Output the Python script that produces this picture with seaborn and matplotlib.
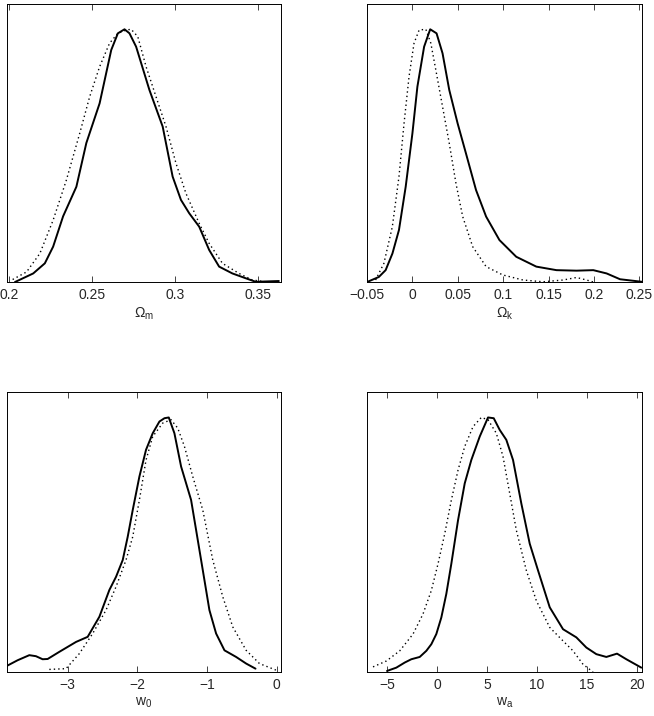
import numpy as np
import seaborn as sns
import matplotlib.pyplot as plt

# Omega_m panel
om_x_solid = [0.2036, 0.2146, 0.2216, 0.2266, 0.2326, 0.2406, 0.2466, 0.2546, 0.2616, 0.2656,
              0.2696, 0.2726, 0.2766, 0.2846, 0.2926, 0.2986, 0.3036, 0.3086, 0.3146, 0.3206,
              0.3266, 0.3346, 0.3426, 0.3486, 0.3626]
om_y_solid = [0.0, 0.034, 0.074, 0.14, 0.26, 0.377, 0.55, 0.707, 0.918, 0.984,
              1.0, 0.984, 0.931, 0.76, 0.615, 0.417, 0.325, 0.272, 0.219, 0.127,
              0.061, 0.034, 0.015, 0.001, 0.004]
om_x_dot = [0.2022, 0.2106, 0.2186, 0.2266, 0.2346, 0.2426, 0.2486, 0.2546, 0.2606, 0.2656,
            0.2706, 0.2736, 0.2776, 0.2826, 0.2886, 0.2946, 0.3006, 0.3066, 0.3146, 0.3206,
            0.3286, 0.3386, 0.3466, 0.3546]
om_y_dot = [0.01, 0.04, 0.113, 0.245, 0.404, 0.588, 0.733, 0.852, 0.945, 0.984,
            0.997, 1.0, 0.971, 0.852, 0.733, 0.615, 0.47, 0.351, 0.232, 0.153,
            0.074, 0.034, 0.008, 0.001]

# Omega_k panel
ok_x_solid = [-0.05, -0.037, -0.0295, -0.022, -0.0148, -0.0074, 0.0, 0.0055, 0.0129, 0.0196,
              0.0266, 0.0332, 0.0406, 0.0498, 0.059, 0.0701, 0.0812, 0.0959, 0.1144, 0.1365,
              0.1587, 0.1808, 0.1993, 0.214, 0.2288, 0.2528]
ok_y_solid = [0.0, 0.02, 0.047, 0.113, 0.206, 0.377, 0.588, 0.773, 0.931, 1.0,
              0.984, 0.905, 0.76, 0.628, 0.509, 0.364, 0.259, 0.166, 0.1, 0.061,
              0.047, 0.045, 0.047, 0.034, 0.011, 0.001]
ok_x_dot = [-0.0406, -0.0314, -0.0221, -0.0148, -0.0092, -0.0037, 0.0018, 0.0074, 0.0148, 0.0203,
            0.0258, 0.0332, 0.0406, 0.048, 0.0554, 0.0664, 0.0812, 0.0996, 0.1218, 0.1439,
            0.1661, 0.1808, 0.1919, 0.1993]
ok_y_dot = [0.008, 0.074, 0.219, 0.417, 0.628, 0.813, 0.945, 0.997, 1.0, 0.945,
            0.839, 0.694, 0.549, 0.39, 0.259, 0.14, 0.061, 0.028, 0.008, 0.001,
            0.008, 0.018, 0.008, 0.0]

# w0 panel
w0_x_solid = [-3.885, -3.718, -3.55, -3.455, -3.359, -3.287, -3.12, -2.88, -2.713, -2.545,
              -2.402, -2.306, -2.21, -2.139, -2.067, -1.971, -1.876, -1.78, -1.684, -1.612,
              -1.55, -1.469, -1.373, -1.23, -1.158, -1.062, -0.967, -0.871, -0.751, -0.584,
              -0.44, -0.306]
w0_y_solid = [0.022, 0.046, 0.066, 0.062, 0.05, 0.051, 0.079, 0.118, 0.138, 0.217,
              0.322, 0.374, 0.44, 0.531, 0.636, 0.768, 0.873, 0.938, 0.984, 0.997,
              1.0, 0.938, 0.807, 0.676, 0.558, 0.4, 0.243, 0.151, 0.085, 0.059,
              0.033, 0.013]
w0_x_dot = [-3.263, -3.024, -2.833, -2.641, -2.45, -2.306, -2.163, -2.067, -1.971, -1.876,
            -1.78, -1.636, -1.517, -1.421, -1.325, -1.206, -1.062, -0.919, -0.775, -0.632,
            -0.44, -0.249, -0.01]
w0_y_dot = [0.01, 0.013, 0.072, 0.151, 0.243, 0.335, 0.44, 0.531, 0.676, 0.833,
            0.925, 0.978, 0.991, 0.958, 0.886, 0.768, 0.636, 0.44, 0.295, 0.177,
            0.085, 0.033, 0.007]

# wa panel
wa_x_solid = [-5.0, -4.07, -3.23, -2.57, -1.73, -1.07, -0.57, -0.07, 0.43, 0.93,
              1.43, 2.1, 2.77, 3.43, 4.27, 5.1, 5.67, 6.27, 6.93, 7.6,
              8.43, 9.27, 10.1, 11.27, 12.6, 13.93, 14.93, 15.93, 16.93, 18.0,
              18.93, 20.43]
wa_y_solid = [0.004, 0.017, 0.037, 0.05, 0.059, 0.083, 0.109, 0.149, 0.214, 0.307,
              0.425, 0.596, 0.741, 0.833, 0.925, 1.0, 0.997, 0.951, 0.912, 0.833,
              0.662, 0.504, 0.399, 0.254, 0.168, 0.136, 0.096, 0.07, 0.059, 0.072,
              0.05, 0.017]
wa_x_dot = [-6.4, -5.07, -3.73, -2.4, -1.4, -0.57, 0.1, 0.77, 1.43, 2.1,
            2.77, 3.6, 4.43, 5.1, 5.93, 6.6, 7.27, 7.93, 8.93, 9.93,
            11.27, 12.6, 13.6, 14.6, 15.6]
wa_y_dot = [0.02, 0.043, 0.083, 0.149, 0.228, 0.32, 0.425, 0.543, 0.675, 0.793,
            0.886, 0.964, 1.0, 0.991, 0.938, 0.846, 0.701, 0.557, 0.399, 0.28,
            0.175, 0.122, 0.083, 0.03, 0.0]

sns.set_style("white")
plt.rcParams['font.family'] = ['Liberation Sans', 'DejaVu Sans']
plt.rcParams['mathtext.fontset'] = 'custom'
plt.rcParams['mathtext.rm'] = 'Liberation Sans'
plt.rcParams['mathtext.it'] = 'Liberation Sans:italic'

fig = plt.figure(figsize=(6.54, 7.16), dpi=100)

panels = [
    ([0.0107, 0.6061, 0.4190, 0.3883], om_x_solid, om_y_solid, om_x_dot, om_y_dot,
     (0.1988, 0.3639), [0.2, 0.25, 0.3, 0.35], ['0.2', '0.25', '0.3', '0.35'], r'$\Omega_{\mathrm{m}}$'),
    ([0.5612, 0.6061, 0.4205, 0.3883], ok_x_solid, ok_y_solid, ok_x_dot, ok_y_dot,
     (-0.05, 0.253), [-0.05, 0, 0.05, 0.1, 0.15, 0.2, 0.25],
     ['\u22120.05', '0', '0.05', '0.1', '0.15', '0.2', '0.25'], r'$\Omega_{\mathrm{k}}$'),
    ([0.0107, 0.0615, 0.4190, 0.3910], w0_x_solid, w0_y_solid, w0_x_dot, w0_y_dot,
     (-3.87, 0.06), [-3, -2, -1, 0], ['\u22123', '\u22122', '\u22121', '0'], r'$\mathrm{w}_{0}$'),
    ([0.5612, 0.0615, 0.4205, 0.3910], wa_x_solid, wa_y_solid, wa_x_dot, wa_y_dot,
     (-7.0, 20.5), [-5, 0, 5, 10, 15, 20], ['\u22125', '0', '5', '10', '15', '20'], r'$\mathrm{w}_{\mathrm{a}}$'),
]

for rect, xs, ys, xd, yd, xlim, ticks, ticklabels, label in panels:
    ax = fig.add_axes(rect)
    sns.lineplot(x=np.array(xd), y=np.array(yd), ax=ax, color='k', lw=1.0,
                 linestyle=(0, (1, 2.2)), sort=False)
    sns.lineplot(x=np.array(xs), y=np.array(ys), ax=ax, color='k', lw=1.4, sort=False)
    ax.set_xlim(*xlim)
    ax.set_ylim(0, 1.1)
    ax.set_yticks([])
    ax.set_xticks(ticks)
    ax.set_xticklabels(ticklabels, fontsize=10)
    ax.tick_params(axis='x', direction='in', top=True, bottom=True, length=4, width=0.6, pad=4)
    ax.set_xlabel(label, fontsize=10, labelpad=3)
    ax.set_ylabel('')
    for sp in ax.spines.values():
        sp.set_visible(True)
        sp.set_linewidth(0.7)
        sp.set_color('k')

plt.savefig('out.png', dpi=100)
